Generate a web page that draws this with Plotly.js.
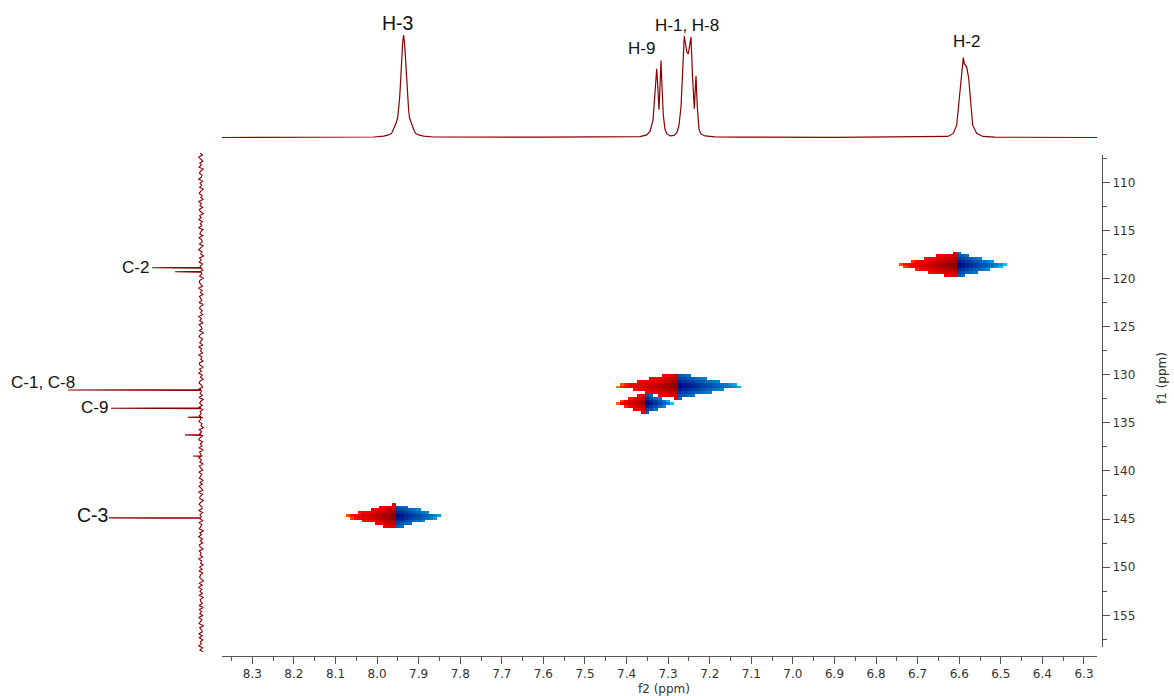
<!DOCTYPE html>
<html><head><meta charset="utf-8">
<script src="https://cdn.plot.ly/plotly-3.0.1.min.js"></script>
<style>html,body{margin:0;padding:0;background:#fff;} #chart{width:1174px;height:696px;}</style>
</head><body><div id="chart"></div>
<script>
// ---- 1H projection (f2 ppm, relative intensity) ----
const h1Ppm = [8.3729, 8.10,
  8.0083, 7.9843, 7.9723, 7.9651, 7.9602, 7.9554, 7.9506, 7.9482, 7.9458, 7.9434, 7.9410, 7.9386,
  7.9362,
  7.9338, 7.9314, 7.9290, 7.9266, 7.9242, 7.9218, 7.9170, 7.9122, 7.9073, 7.9001, 7.8881, 7.8641,
  7.60, 7.4038, 7.3677, 7.3516, 7.3436, 7.3364, 7.3316, 7.3275, 7.3249, 7.3220, 7.3196, 7.3172, 7.3148,
  7.3117, 7.3076, 7.3028, 7.2955, 7.2859, 7.2787, 7.2739, 7.2691, 7.2650, 7.2612, 7.2578, 7.2547,
  7.2515, 7.2482, 7.2451, 7.2414, 7.2371, 7.2350, 7.2330, 7.2299, 7.2258, 7.2210, 7.2114, 7.1873,
  7.1272, 6.90, 6.6463, 6.6271, 6.6143, 6.6061, 6.5999, 6.5941, 6.5902, 6.5878, 6.5821, 6.5773,
  6.5725, 6.5677, 6.5580, 6.5429, 6.5140, 6.2687];
const h1Int = [0, 0.002,
  0.005, 0.013, 0.025, 0.04, 0.08, 0.13, 0.19, 0.27, 0.38, 0.55, 0.76, 0.92,
  1.0,
  0.92, 0.76, 0.55, 0.38, 0.27, 0.19, 0.13, 0.08, 0.04, 0.025, 0.013, 0.005,
  0.003, 0.004, 0.008, 0.025, 0.06, 0.17, 0.42, 0.67, 0.5, 0.27, 0.5, 0.75, 0.5,
  0.22, 0.08, 0.035, 0.015, 0.02, 0.05, 0.12, 0.3, 0.65, 0.99, 0.9, 0.83,
  0.815, 0.9, 0.98, 0.6, 0.28, 0.45, 0.60, 0.3, 0.08, 0.035, 0.015, 0.006,
  0.003, 0.002, 0.003, 0.01, 0.04, 0.12, 0.38, 0.64, 0.78, 0.72, 0.69, 0.58,
  0.38, 0.12, 0.04, 0.01, 0.003, 0];

// ---- 13C projection (f1 ppm, relative intensity) ----
const c13PeakPpm = [118.88, 119.29, 131.59, 133.49, 134.42, 136.26, 138.45, 144.89];
const c13PeakInt = [36.8, 19.5, 100, 67.7, 9.8, 12.0, 6.0, 69.2];
const c13NoiseStart = 106.95, c13NoiseStep = 0.21;
const c13Noise = [
 0.6,-1.1,1.8,0.2,-1.4,0.9,-0.3,1.5,-1.9,0.4,1.2,-0.8,-0.2,1.7,-1.3,0.7,-0.6,1.1,-1.7,0.3,
 1.4,-0.9,0.1,-1.5,1.9,-0.4,0.8,-1.2,1.3,0.5,-1.8,1.0,-0.1,1.6,-1.1,0.6,-0.7,1.8,-1.5,0.2,
 0.9,-1.3,1.5,-0.5,-1.0,1.2,-1.6,0.4,1.7,-0.8,0.3,-1.9,1.1,-0.2,1.4,-1.2,0.7,0.0,-1.4,1.6,
 -0.6,1.0,-1.7,0.8,1.3,-0.3,-1.1,1.9,-0.9,0.5,-1.5,1.2,0.2,-0.7,1.5,-1.8,0.6,1.1,-1.0,0.3,
 -1.3,1.7,-0.4,0.9,-1.6,1.4,-0.2,-0.8,1.2,-1.9,0.7,1.5,-1.1,0.1,1.0,-1.4,1.8,-0.5,0.4,-1.2,
 1.6,-0.7,0.2,-1.5,1.3,0.8,-1.8,1.1,-0.3,1.7,-1.0,0.5,-1.6,0.9,1.4,-0.6,-1.2,1.9,-0.4,0.7,
 -1.1,1.5,-1.7,0.3,1.0,-0.9,1.8,-1.3,0.6,-0.2,1.2,-1.5,0.4,1.6,-0.8,0.1,-1.9,1.3,-0.5,1.0,
 -1.4,0.8,1.7,-1.2,0.5,-0.6,1.4,-1.8,1.1,0.2,-1.0,1.6,-0.4,0.9,-1.7,1.3,-0.1,-1.3,1.8,-0.7,
 0.4,1.2,-1.6,0.7,-0.9,1.5,-0.3,-1.4,1.9,-1.1,0.6,1.0,-1.8,0.3,1.4,-0.5,-0.9,1.7,-1.2,0.8,
 -0.2,1.1,-1.5,1.6,-0.7,0.2,1.3,-1.9,0.9,-0.4,1.8,-1.0,0.5,-1.3,1.2,0.6,-1.7,1.4,-0.1,0.7,
 -1.2,1.9,-0.6,0.3,-1.5,1.0,-0.8,1.6,-1.4,0.4,1.1,-0.3,-1.8,1.3,-0.9,1.7,-0.5,0.8,-1.1,1.5,
 -1.6,0.6,0.2,-1.0,1.4,-1.7,1.2,-0.4,0.9,-1.3,1.8,-0.7,0.1,1.5,-1.9,1.0,-0.2,-1.1,1.6,-0.8,
 1.3,-1.4,0.5,-0.3,1.7,-1.2,0.8,-1.6,1.1,0.3];

// ---- HSQC cross peaks ----
const xpF2 = [7.9594, 6.6084, 7.2791, 7.3512];
const xpF1 = [144.69, 118.60, 131.17, 132.95];
const xpHalfWidthHigh = [0.1226, 0.1466, 0.154, 0.075];   // toward higher f2
const xpHalfWidthLow  = [0.1226, 0.1274, 0.166, 0.065];   // toward lower f2
const xpHalfHeight    = [1.30, 1.35, 1.35, 1.10];

// ---- labels ----
const hLabels = ['H-3', 'H-9', 'H-1, H-8', 'H-2'];
const cLabels = ['C-2', 'C-1, C-8', 'C-9', 'C-3'];

// ---------- build ----------
const W = 1174, H = 696;
const px = x => x / W, py = y => 1 - y / H;
const red = '#8B0000';

// 13C trace points
let cPts = c13Noise.map((n, i) => [c13NoiseStart + i * c13NoiseStep, n]);
c13PeakPpm.forEach((p, i) => {
  cPts.push([p - 0.05, 0], [p, c13PeakInt[i]], [p + 0.05, 0]);
});
cPts.sort((a, b) => a[0] - b[0]);

// heatmap grid
const gx = [], gy = [];
for (let i = 0; i <= 210; i++) gx.push(Math.round((8.37 - i * 0.01) * 1000) / 1000);
for (let j = 0; j <= 176; j++) gy.push(Math.round((107.2 + j * 0.29) * 1000) / 1000);
const gz = gy.map(y => gx.map(x => {
  let best = null;
  for (let k = 0; k < xpF2.length; k++) {
    const dx = x - xpF2[k], dy = y - xpF1[k];
    const wx = dx >= 0 ? xpHalfWidthHigh[k] : xpHalfWidthLow[k];
    const ax = Math.abs(dx) / wx, ay = Math.abs(dy) / xpHalfHeight[k];
    if (ax + ay < 1) {
      const v = (dx >= 0 ? 1 : -1) * (1 - Math.min(0.99, ax + 0.75 * ay));
      if (best === null || Math.abs(v) > Math.abs(best)) best = v;
    }
  }
  return best;
}));

const colorscale = [
  [0, 'rgb(0,0,125)'], [0.08, 'rgb(0,15,138)'], [0.18, 'rgb(0,45,155)'], [0.3, 'rgb(0,85,178)'],
  [0.42, 'rgb(0,125,200)'], [0.47, 'rgb(0,165,220)'], [0.4999, 'rgb(0,220,248)'],
  [0.5001, 'rgb(255,165,0)'], [0.53, 'rgb(255,60,0)'], [0.58, 'rgb(250,0,0)'],
  [0.7, 'rgb(220,0,0)'], [0.82, 'rgb(185,0,0)'], [0.92, 'rgb(150,0,0)'], [1, 'rgb(125,0,0)']
];

const traces = [
  { type: 'heatmap', x: gx, y: gy, z: gz, xaxis: 'x', yaxis: 'y', zmin: -1, zmax: 1,
    colorscale: colorscale, showscale: false, hoverinfo: 'skip', zsmooth: false },
  { type: 'scatter', mode: 'lines', x: h1Ppm, y: h1Int, xaxis: 'x', yaxis: 'y3',
    line: { color: red, width: 1.2 }, hoverinfo: 'skip' },
  { type: 'scatter', mode: 'lines', x: cPts.map(p => p[1]), y: cPts.map(p => p[0]),
    xaxis: 'x2', yaxis: 'y2', line: { color: red, width: 1.1 }, hoverinfo: 'skip' }
];

const tickFont = { family: 'DejaVu Sans, Verdana, sans-serif', size: 12, color: '#333' };
const axCol = '#555';
const lblFont = (s) => ({ family: 'Liberation Sans, Arial, sans-serif', size: s, color: '#111' });

const annPos = [
  [hLabels[0], 397.5, 22.5, 19.5], [hLabels[1], 641, 49, 17], [hLabels[2], 686.5, 25, 17], [hLabels[3], 966, 41, 17],
  [cLabels[0], 135, 267.5, 17], [cLabels[1], 43.3, 382, 17], [cLabels[2], 94.5, 408, 17], [cLabels[3], 92.5, 515.3, 19.5]
];
const annotations = annPos.map(a => ({
  text: a[0], xref: 'paper', yref: 'paper', x: px(a[1]), y: py(a[2]),
  xanchor: 'center', yanchor: 'middle', showarrow: false, font: lblFont(a[3])
}));
annotations.push({ text: 'f2 (ppm)', xref: 'paper', yref: 'paper', x: px(664), y: py(689),
  xanchor: 'center', yanchor: 'middle', showarrow: false, font: tickFont });
annotations.push({ text: 'f1 (ppm)', xref: 'paper', yref: 'paper', x: px(1162), y: py(378),
  xanchor: 'center', yanchor: 'middle', showarrow: false, textangle: -90, font: tickFont });

const layout = {
  width: W, height: H, margin: { l: 0, r: 0, t: 0, b: 0, pad: 0 },
  paper_bgcolor: '#fff', plot_bgcolor: 'rgba(0,0,0,0)', showlegend: false,
  xaxis: { domain: [px(222), px(1097)], range: [8.3729, 6.2687], anchor: 'free', position: py(656),
    showgrid: false, zeroline: false, showline: true, linecolor: axCol, linewidth: 1,
    ticks: 'outside', ticklen: 7, tickcolor: axCol, dtick: 0.1, tick0: 0, tickformat: '.1f',
    tickfont: tickFont, automargin: false,
    minor: { dtick: 0.05, tick0: 0, ticks: 'outside', ticklen: 3.5, tickcolor: axCol, showgrid: false } },
  yaxis: { domain: [py(647), py(155)], range: [158.295, 107.163], anchor: 'free', position: px(1102),
    side: 'right', showgrid: false, zeroline: false, showline: true, linecolor: axCol, linewidth: 1,
    ticks: 'outside', ticklen: 7, tickcolor: axCol, dtick: 5, tick0: 0, tickfont: tickFont, automargin: false,
    minor: { dtick: 2.5, tick0: 0, ticks: 'outside', ticklen: 4, tickcolor: axCol, showgrid: false } },
  xaxis2: { domain: [0, px(211.32)], range: [151.13, -7.76], anchor: 'y2', visible: false },
  yaxis2: { domain: [py(652), py(153)], range: [158.83, 106.95], anchor: 'x2', visible: false },
  yaxis3: { domain: [py(140), py(30)], range: [-0.0244, 1.0488], anchor: 'x', visible: false },
  annotations: annotations
};

Plotly.newPlot('chart', traces, layout, { staticPlot: true, displayModeBar: false });
</script>
</body></html>
